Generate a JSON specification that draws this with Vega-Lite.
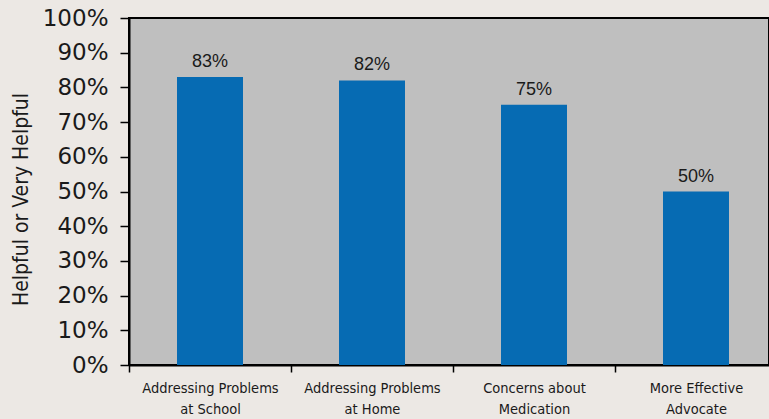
{
  "$schema": "https://vega.github.io/schema/vega-lite/v6.json",
  "autosize": {"type": "none"},
  "padding": {"left": 129, "top": 18, "right": 0, "bottom": 54},
  "width": 640,
  "height": 347,
  "background": "#ece8e4",
  "config": {
    "view": {"fill": "#bfbfbf", "stroke": "#000000", "strokeWidth": 2}
  },
  "data": {
    "values": [
      {"category": "Addressing Problems at School", "value": 0.83},
      {"category": "Addressing Problems at Home", "value": 0.82},
      {"category": "Concerns about Medication", "value": 0.75},
      {"category": "More Effective Advocate", "value": 0.50}
    ]
  },
  "encoding": {
    "x": {
      "field": "category",
      "type": "nominal",
      "sort": null,
      "scale": {"range": [0, 648], "paddingInner": 0, "paddingOuter": 0},
      "axis": {
        "title": null,
        "labelAngle": 0,
        "tickBand": "extent",
        "domainColor": "#000000",
        "domainWidth": 2,
        "tickColor": "#000000",
        "tickWidth": 1.5,
        "tickSize": 7,
        "labelPadding": 9,
        "labelFont": "DejaVu Sans Condensed, Liberation Sans",
        "labelFontSize": 14.5,
        "labelLineHeight": 21,
        "labelBaseline": "top",
        "labelColor": "#1a1a1a",
        "labelExpr": "datum.value == 'Addressing Problems at School' ? ['Addressing Problems', 'at School'] : datum.value == 'Addressing Problems at Home' ? ['Addressing Problems', 'at Home'] : datum.value == 'Concerns about Medication' ? ['Concerns about', 'Medication'] : datum.value == 'More Effective Advocate' && datum.index > 0.5 ? ['More Effective', 'Advocate'] : ''"
      }
    },
    "y": {
      "field": "value",
      "type": "quantitative",
      "scale": {"domain": [0, 1], "nice": false},
      "axis": {
        "title": "Helpful or Very Helpful",
        "values": [0, 0.1, 0.2, 0.3, 0.4, 0.5, 0.6, 0.7, 0.8, 0.9, 1],
        "format": ".0%",
        "grid": false,
        "domainColor": "#000000",
        "domainWidth": 2,
        "tickColor": "#000000",
        "tickWidth": 1.5,
        "tickSize": 9,
        "labelPadding": 12,
        "labelFont": "DejaVu Sans",
        "labelFontSize": 23,
        "labelColor": "#1a1a1a",
        "labelFlush": false,
        "titleFont": "DejaVu Sans Condensed, Liberation Sans",
        "titleFontSize": 21,
        "titleFontWeight": "normal",
        "titleColor": "#1a1a1a",
        "titleX": -102,
        "titleY": 181,
        "titleAngle": -90,
        "titleAlign": "center",
        "titleBaseline": "alphabetic"
      }
    }
  },
  "layer": [
    {
      "mark": {"type": "bar", "width": 66, "color": "#066bb3"}
    },
    {
      "mark": {
        "type": "text",
        "baseline": "alphabetic",
        "dy": -10,
        "font": "Liberation Sans",
        "fontSize": 18,
        "color": "#1a1a1a"
      },
      "encoding": {
        "text": {"field": "value", "type": "quantitative", "format": ".0%"}
      }
    }
  ]
}
